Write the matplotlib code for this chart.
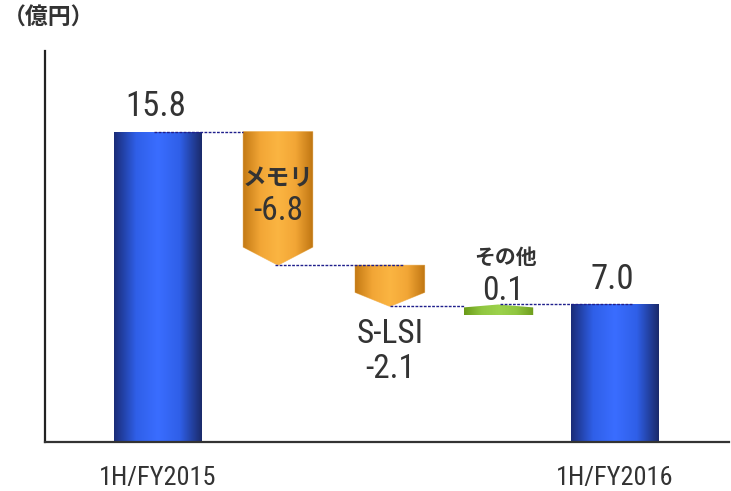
import matplotlib
matplotlib.use("Agg")
import matplotlib.pyplot as plt
import numpy as np
from matplotlib.colors import LinearSegmentedColormap
from matplotlib.patches import Polygon

# data
period_labels = ["1H/FY2015", "1H/FY2016"]
period_values = [15.8, 7.0]
step_names = ["メモリ", "S-LSI", "その他"]
step_values = [-6.8, -2.1, 0.1]
unit_label = "（億円）"

NUM_FONT = ["Roboto Condensed", "DejaVu Sans"]
JP_FONT = ["Noto Sans CJK JP", "DejaVu Sans"]
TEXT_COLOR = "#333333"
LINE_COLOR = "#1f1f8c"

blue_cmap = LinearSegmentedColormap.from_list("blue", ["#1a2c78", "#2f5fe8", "#3a6dff", "#2f5fe8", "#1a2a6a"])
orange_cmap = LinearSegmentedColormap.from_list("orange", ["#c47a14", "#f2a636", "#fbb542", "#f2a636", "#c07612"])
green_cmap = LinearSegmentedColormap.from_list("green", ["#6a9a18", "#90c640", "#9cd24c", "#90c640", "#6e9c1c"])

# x positions of the five columns (layout)
xs = [0.0, 1.05, 2.03, 2.98, 4.0]
bar_w = 0.77
arrow_w = 0.61

fig = plt.figure(figsize=(7.31, 4.91), dpi=100)
ax = fig.add_axes([0.0616, 0.0998, 0.9357, 0.7962])


def gradient_fill(poly, cmap, x0, x1, y0, y1):
    ax.add_patch(poly)
    grad = np.linspace(0, 1, 256).reshape(1, -1)
    im = ax.imshow(grad, cmap=cmap, extent=[x0, x1, y0, y1], aspect="auto",
                   origin="lower", zorder=2)
    im.set_clip_path(poly)


def num_text(s, xy, dx, dy, size=24, **kw):
    ax.annotate(s, xy, xytext=(dx, dy), textcoords="offset points",
                ha="center", va="baseline", fontsize=size, color=TEXT_COLOR,
                family=NUM_FONT, **kw)


# start / end bars
for x, v in zip([xs[0], xs[-1]], period_values):
    x0, x1 = x - bar_w / 2, x + bar_w / 2
    poly = Polygon([(x0, 0), (x1, 0), (x1, v), (x0, v)], closed=True,
                   facecolor="none", edgecolor="none")
    gradient_fill(poly, blue_cmap, x0, x1, 0, v)
    num_text(f"{v:.1f}", (x, v), -1.5, 11.5, size=25)

# step arrows
level = period_values[0]
starts = []
ends = []
for i, (name, dv) in enumerate(zip(step_names, step_values)):
    x = xs[i + 1]
    x0, x1 = x - arrow_w / 2, x + arrow_w / 2
    top = level
    end = level + dv
    starts.append(top)
    ends.append(end)
    if dv < 0:
        head = min(0.92, 0.34 * abs(dv))
        pts = [(x0, top), (x1, top), (x1, end + head), (x, end), (x0, end + head)]
        poly = Polygon(pts, closed=True, facecolor="none", edgecolor="#f3c680", lw=0.6)
        gradient_fill(poly, orange_cmap, x0, x1, end, top)
    else:
        pts = [(x0, end - 0.55), (x1, end - 0.55), (x1, end - 0.15), (x, end), (x0, end - 0.15)]
        poly = Polygon(pts, closed=True, facecolor="none", edgecolor="none")
        gradient_fill(poly, green_cmap, x0, x1, end - 0.55, end)
    level = end

# labels on the steps
ax.annotate(step_names[0], (xs[1], starts[0]), xytext=(0, -34), textcoords="offset points",
            ha="center", va="center", fontsize=17, fontweight="bold", color=TEXT_COLOR,
            family=JP_FONT, zorder=5)
num_text(f"{step_values[0]:.1f}", (xs[1], starts[0]), 0, -64, zorder=5)
num_text(step_names[1], (xs[2], ends[1]), 0, -26.6)
num_text(f"{step_values[1]:.1f}", (xs[2], ends[1]), 0, -51.7)
ax.annotate(step_names[2], (xs[3], ends[2]), xytext=(5, 34), textcoords="offset points",
            ha="center", va="center", fontsize=15, fontweight="bold", color=TEXT_COLOR,
            family=JP_FONT)
num_text(f"{step_values[2]:.1f}", (xs[3], ends[2]), 3.6, 3.2)

# dotted connectors
conn = [
    (xs[0] - 0.04, xs[1] - arrow_w / 2, period_values[0]),
    (xs[1] - 0.03, xs[2] + 0.12, ends[0]),
    (xs[2], xs[3] - arrow_w / 2, ends[1]),
    (xs[3] + 0.01, xs[4] + 0.15, ends[2]),
]
for xa, xb, y in conn:
    ax.plot([xa, xb], [y, y], color=LINE_COLOR, lw=1.0, linestyle=(0, (2, 1)), zorder=4)

# x labels
for x, lab in zip([xs[0], xs[-1]], period_labels):
    num_text(lab, (x, 0), 0, -31, size=19, annotation_clip=False)

fig.text(0.067, 0.963, unit_label, ha="center", va="center", fontsize=16.5,
         fontweight="bold", color=TEXT_COLOR, family=JP_FONT)

ax.set_xlim(-0.99, 5.0)
ax.set_ylim(0, 19.9)
for s in ["top", "right"]:
    ax.spines[s].set_visible(False)
ax.spines["left"].set_color("#222222")
ax.spines["bottom"].set_color("#333333")
ax.spines["left"].set_linewidth(1.6)
ax.spines["bottom"].set_linewidth(1.6)
ax.set_xticks([])
ax.set_yticks([])

fig.savefig("out.png", dpi=100)
